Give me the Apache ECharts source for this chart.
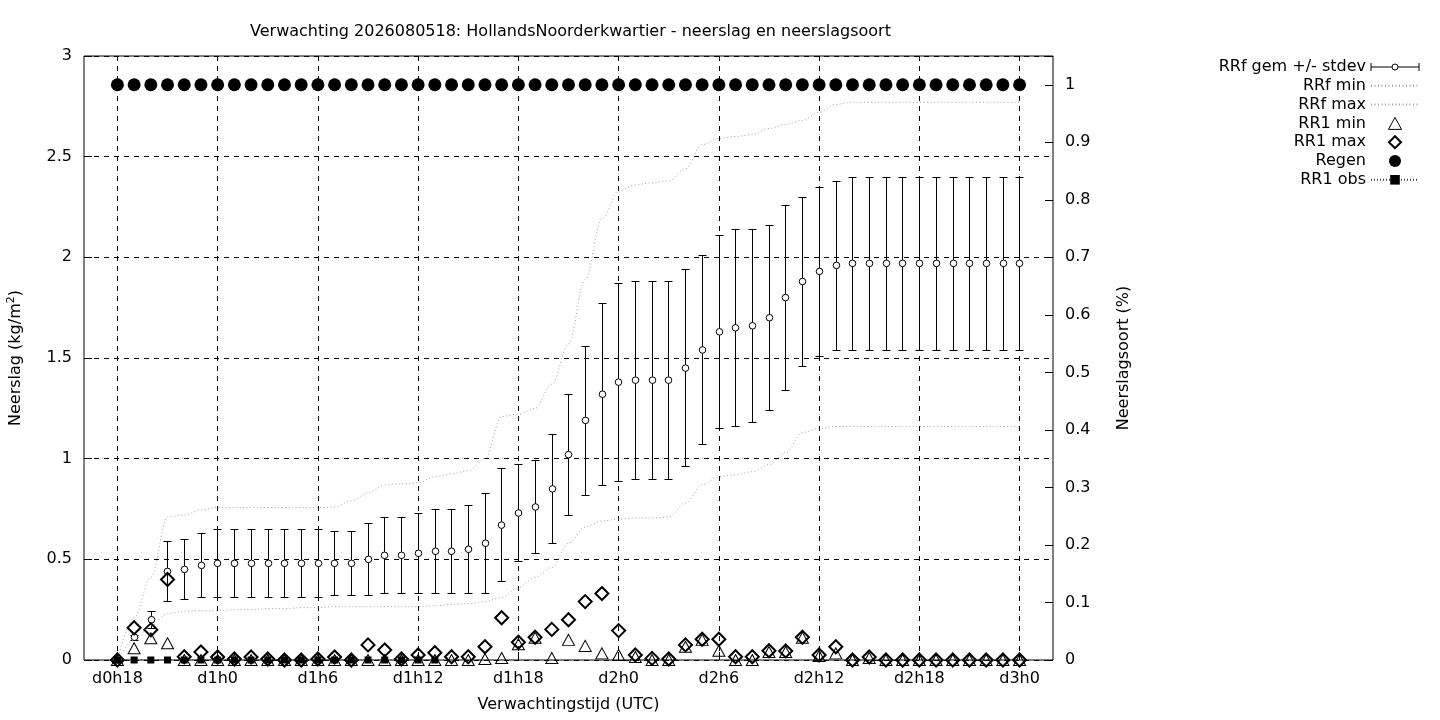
<!DOCTYPE html>
<html>
<head>
<meta charset="utf-8">
<script src="https://cdn.jsdelivr.net/npm/echarts@6/dist/echarts.min.js"></script>
<style>html,body{margin:0;padding:0;background:#fff}#c{width:1440px;height:720px}</style>
</head>
<body>
<div id="c"></div>
<script>
// Forecast hours (hours after d0h0)
const hours = [18,19,20,21,22,23, 24,25,26,27,28,29, 30,31,32,33,34,35, 36,37,38,39,40,41,
  42,43,44,45,46,47, 48,49,50,51,52,53, 54,55,56,57,58,59, 60,61,62,63,64,65, 66,67,68,69,70,71, 72];
// Axis extent in hours (category axis)
const axisHours = [16,17,18,19,20,21,22,23,24,25,26,27,28,29,30,31,32,33,34,35,36,37,38,39,40,41,42,43,44,45,
  46,47,48,49,50,51,52,53,54,55,56,57,58,59,60,61,62,63,64,65,66,67,68,69,70,71,72,73,74];
const tickLabels = ['d0h18','d1h0','d1h6','d1h12','d1h18','d2h0','d2h6','d2h12','d2h18','d3h0'];

// RRf gem (mean) and mean +/- stdev
const meanVals = [0,0.113,0.20,0.44,0.45,0.47, 0.48,0.48,0.48,0.48,0.48,0.48, 0.48,0.48,0.48,0.50,0.52,0.52,
  0.53,0.54,0.54,0.55,0.58,0.67, 0.73,0.76,0.85,1.02,1.19,1.32, 1.38,1.39,1.39,1.39,1.45,1.54,
  1.63,1.65,1.66,1.70,1.80,1.88, 1.93,1.96,1.97,1.97,1.97,1.97, 1.97,1.97,1.97,1.97,1.97,1.97, 1.97];
const sdHigh = [0,0.125,0.24,0.59,0.60,0.63, 0.65,0.65,0.65,0.65,0.65,0.65, 0.65,0.64,0.64,0.68,0.71,0.71,
  0.73,0.75,0.75,0.77,0.83,0.95, 0.97,0.99,1.12,1.32,1.56,1.77, 1.87,1.88,1.88,1.88,1.94,2.01,
  2.11,2.14,2.14,2.16,2.26,2.30, 2.35,2.38,2.40,2.40,2.40,2.40, 2.40,2.40,2.40,2.40,2.40,2.40, 2.40];
const sdLow = [0,0.10,0.16,0.29,0.30,0.31, 0.31,0.31,0.31,0.31,0.31,0.31, 0.31,0.32,0.32,0.32,0.33,0.33,
  0.33,0.33,0.33,0.33,0.33,0.39, 0.49,0.53,0.58,0.72,0.82,0.87, 0.89,0.90,0.90,0.90,0.96,1.07,
  1.15,1.16,1.18,1.24,1.34,1.46, 1.51,1.54,1.54,1.54,1.54,1.54, 1.54,1.54,1.54,1.54,1.54,1.54, 1.54];
// RRf min / max
const rrfMin = [0,0.10,0.17,0.23,0.243,0.245, 0.245,0.25,0.25,0.255,0.255,0.26, 0.26,0.265,0.265,0.265,0.265,0.265,
  0.265,0.27,0.275,0.28,0.29,0.31, 0.36,0.41,0.46,0.58,0.66,0.69, 0.70,0.705,0.705,0.71,0.78,0.87,
  0.91,0.92,0.935,0.97,1.03,1.13, 1.15,1.16,1.16,1.16,1.16,1.16, 1.16,1.16,1.16,1.16,1.16,1.16, 1.16];
const rrfMax = [0,0.21,0.41,0.71,0.72,0.745, 0.757,0.757,0.757,0.757,0.757,0.757, 0.757,0.76,0.79,0.83,0.87,0.875,
  0.88,0.91,0.925,0.94,1.0,1.21, 1.22,1.25,1.37,1.57,1.89,2.19, 2.33,2.36,2.37,2.38,2.44,2.56,
  2.59,2.60,2.61,2.64,2.66,2.68, 2.72,2.76,2.77,2.77,2.77,2.77, 2.77,2.77,2.77,2.77,2.77,2.77, 2.77];
// RR1 min / max
const rr1Min = [0,0.058,0.108,0.083,0,0, 0,0,0,0,0,0, 0,0,0,0,0,0,
  0,0,0,0,0.005,0.01, 0.078,0.11,0.01,0.10,0.07,0.033, 0.025,0.015,0,0,0.066,0.10,
  0.046,0,0,0.04,0.04,0.11, 0.02,0.033,0,0.01,0,0, 0,0,0,0,0,0, 0];
const rr1Max = [0,0.16,0.15,0.40,0.016,0.04, 0.015,0.005,0.015,0.005,0,0, 0.005,0.015,0,0.075,0.05,0.005,
  0.025,0.036,0.016,0.016,0.066,0.21, 0.088,0.113,0.152,0.20,0.29,0.33, 0.146,0.025,0.008,0.005,0.075,0.103,
  0.103,0.016,0.016,0.046,0.045,0.113, 0.025,0.066,0,0.015,0,0, 0,0,0,0,0,0, 0];
// Regen fraction (right axis)
const regen = [1,1,1,1,1,1, 1,1,1,1,1,1, 1,1,1,1,1,1, 1,1,1,1,1,1, 1,1,1,1,1,1, 1,1,1,1,1,1,
  1,1,1,1,1,1, 1,1,1,1,1,1, 1,1,1,1,1,1, 1];
// RR1 observations
const obsHours = [18,19,20,21,22,23,24,25,26,27,28,29,30,31,32,33,34,35,36,37];
const obsVals  = [0,0,0,0,0,0,0,0,0,0,0,0,0,0,0,0,0,0,0,0];

const categories = axisHours.map(h => 'd' + Math.floor(h / 24) + 'h' + (h % 24));
const idx = h => axisHours.indexOf(h);
const isTick = (i, v) => tickLabels.indexOf(v) >= 0;
const pairs = arr => hours.map((h, i) => [idx(h), arr[i]]);
// same crisp-line rounding that ECharts applies to its own 1px lines
const crisp = p => { const d = Math.round(p * 2); return (d + 1) % 2 === 0 ? d / 2 : (d + 1) / 2; };

const FONT = 'DejaVu Sans';
const FS = 16;
const chart = echarts.init(document.getElementById('c'), null, {renderer: 'canvas'});

const errData = hours.map((h, i) => [idx(h), meanVals[i], sdLow[i], sdHigh[i]]);
const NOFILL = 'rgba(0,0,0,0)';

const option = {
  animation: false,
  backgroundColor: '#fff',
  textStyle: {fontFamily: FONT, color: '#000'},
  title: {
    text: 'Verwachting 2026080518: HollandsNoorderkwartier - neerslag en neerslagsoort',
    left: 245, top: 19,
    textStyle: {fontFamily: FONT, fontSize: FS, fontWeight: 'normal', color: '#000'}
  },
  grid: {left: 84, right: 387, top: 56, bottom: 60, outerBoundsMode: 'none', containLabel: false,
    show: true, borderColor: '#000', borderWidth: 1, backgroundColor: 'transparent'},
  legend: {
    orient: 'vertical', align: 'right', right: 15, top: 54,
    itemWidth: 48, itemHeight: 12, itemGap: 2.8,
    textStyle: {fontFamily: FONT, fontSize: FS, color: '#000'},
    selectedMode: false,
    data: [
      {name: 'RRf gem +/- stdev', icon: 'path://M0,2L0,10M0,6L21,6M27,6L48,6M48,2L48,10M21,6A3,3,0,1,1,27,6A3,3,0,1,1,21,6Z',
        itemStyle: {color: '#fff', borderColor: '#000', borderWidth: 1}},
      {name: 'RRf min', itemStyle: {color: NOFILL, borderWidth: 0}},
      {name: 'RRf max', itemStyle: {color: NOFILL, borderWidth: 0}},
      {name: 'RR1 min', icon: 'path://M6,0L12,11L0,11Z', itemStyle: {color: NOFILL, borderColor: '#000', borderWidth: 1}},
      {name: 'RR1 max', icon: 'path://M6,0L12,6L6,12L0,6Z', itemStyle: {color: NOFILL, borderColor: '#000', borderWidth: 2}},
      {name: 'Regen'},
      {name: 'RR1 obs'}
    ]
  },
  xAxis: {
    type: 'category', data: categories, boundaryGap: false,
    name: 'Verwachtingstijd (UTC)', nameLocation: 'middle', nameGap: 37,
    nameTextStyle: {fontFamily: FONT, fontSize: FS, color: '#000'},
    axisLine: {show: false},
    axisTick: {show: true, inside: true, length: 8, interval: isTick, lineStyle: {color: '#000'}},
    axisLabel: {interval: isTick, fontFamily: FONT, fontSize: FS, color: '#000', margin: 11},
    splitLine: {show: true, interval: isTick, lineStyle: {color: '#000', type: [5, 5], width: 1}}
  },
  yAxis: [
    {
      type: 'value', min: 0, max: 3, interval: 0.5, position: 'left',
      name: 'Neerslag (kg/m{sup|2})', nameLocation: 'middle', nameRotate: 90, nameGap: 58,
      nameTextStyle: {fontFamily: FONT, fontSize: FS, color: '#000',
        rich: {sup: {fontFamily: FONT, fontSize: 11, color: '#000', verticalAlign: 'top', lineHeight: 20}}},
      axisLine: {show: false},
      axisTick: {show: true, inside: true, length: 8, lineStyle: {color: '#000'}},
      axisLabel: {fontFamily: FONT, fontSize: FS, color: '#000', margin: 12},
      splitLine: {show: true, lineStyle: {color: '#000', type: [5, 5], width: 1}}
    },
    {
      type: 'value', min: 0, max: 1.05, interval: 0.1, position: 'right', alignTicks: false,
      name: 'Neerslagsoort (%)', nameLocation: 'middle', nameRotate: 90, nameGap: 63,
      nameTextStyle: {fontFamily: FONT, fontSize: FS, color: '#000'},
      axisLine: {show: false},
      axisTick: {show: true, inside: true, length: 8, lineStyle: {color: '#000'}},
      axisLabel: {fontFamily: FONT, fontSize: FS, color: '#000', margin: 12,
        formatter: v => (v > 1.001 ? '' : String(+v.toFixed(1)))},
      splitLine: {show: false}
    }
  ],
  series: [
    {
      name: 'RRf gem +/- stdev', type: 'custom', xAxisIndex: 0, yAxisIndex: 0,
      itemStyle: {color: '#000'},
      encode: {x: 0, y: [1, 2, 3]},
      data: errData,
      renderItem: function (params, api) {
        const x = api.value(0);
        const pm = api.coord([x, api.value(1)]);
        const pl = api.coord([x, api.value(2)]);
        const ph = api.coord([x, api.value(3)]);
        const cx = crisp(pm[0]);
        const yl = crisp(pl[1]), yh = crisp(ph[1]);
        const ls = {stroke: '#000', lineWidth: 1};
        return {
          type: 'group',
          children: [
            {type: 'line', shape: {x1: cx, y1: yl, x2: cx, y2: yh}, style: ls},
            {type: 'line', shape: {x1: cx - 4, y1: yl, x2: cx + 4, y2: yl}, style: ls},
            {type: 'line', shape: {x1: cx - 4, y1: yh, x2: cx + 4, y2: yh}, style: ls},
            {type: 'circle', shape: {cx: cx, cy: pm[1], r: 3.3}, style: {fill: '#fff', stroke: '#000', lineWidth: 1}}
          ]
        };
      }
    },
    {
      name: 'RRf min', type: 'line', data: pairs(rrfMin), symbol: 'none', smooth: 0.35, smoothMonotone: 'x',
      itemStyle: {color: '#a0a0a0'}, lineStyle: {color: '#a0a0a0', width: 1, type: [1, 2.5]}, emphasis: {disabled: true}
    },
    {
      name: 'RRf max', type: 'line', data: pairs(rrfMax), symbol: 'none', smooth: 0.35, smoothMonotone: 'x',
      itemStyle: {color: '#a0a0a0'}, lineStyle: {color: '#a0a0a0', width: 1, type: [1, 2.5]}, emphasis: {disabled: true}
    },
    {
      name: 'RR1 min', type: 'scatter', data: pairs(rr1Min), symbol: 'triangle', symbolSize: [12, 11],
      itemStyle: {color: NOFILL, borderColor: '#000', borderWidth: 1, opacity: 1}, emphasis: {disabled: true}
    },
    {
      name: 'RR1 max', type: 'scatter', data: pairs(rr1Max), symbol: 'diamond', symbolSize: [13, 13],
      itemStyle: {color: NOFILL, borderColor: '#000', borderWidth: 2, opacity: 1}, emphasis: {disabled: true}
    },
    {
      name: 'Regen', type: 'scatter', yAxisIndex: 1, data: pairs(regen), symbol: 'circle', symbolSize: 13,
      itemStyle: {color: '#000', opacity: 1}, emphasis: {disabled: true}
    },
    {
      name: 'RR1 obs', type: 'line', data: obsHours.map((h, i) => [idx(h), obsVals[i]]),
      symbol: 'rect', symbolSize: 7, showSymbol: true,
      itemStyle: {color: '#000', opacity: 1}, lineStyle: {color: '#444', width: 1, type: [1, 2]}, emphasis: {disabled: true}
    }
  ]
};
chart.setOption(option);
</script>
</body>
</html>
